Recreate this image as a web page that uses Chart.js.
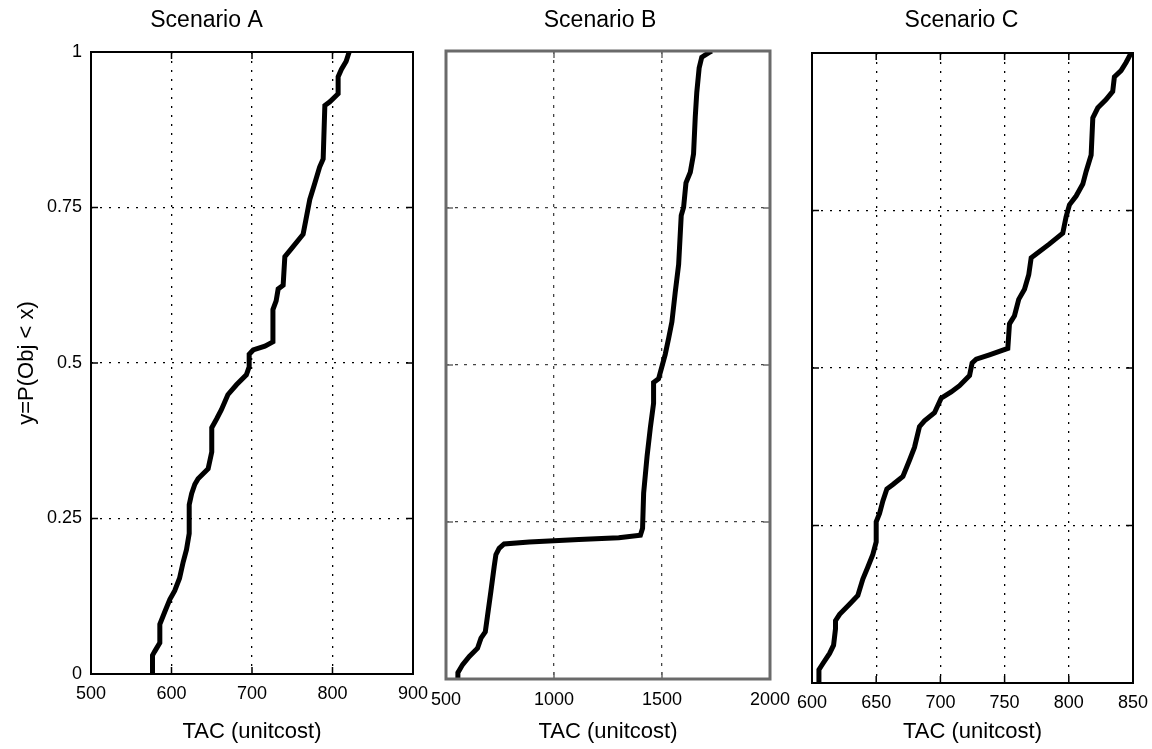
<!DOCTYPE html>
<html><head><meta charset="utf-8">
<script src="https://cdn.jsdelivr.net/npm/chart.js@4.4.0/dist/chart.umd.min.js"></script>
<style>
html,body{margin:0;padding:0;background:#fff;width:1152px;height:749px;overflow:hidden}
canvas{position:absolute;top:0}
</style></head><body>
<canvas id="cA" width="430" height="749" style="left:0px"></canvas>
<canvas id="cB" width="365" height="749" style="left:430px"></canvas>
<canvas id="cC" width="362" height="749" style="left:790px"></canvas>
<script>
// ---- data ----
const panelTitles = ['Scenario A', 'Scenario B', 'Scenario C'];
const xAxisTitle = 'TAC (unitcost)';
const yAxisTitle = 'y=P(Obj < x)';
const yTicks = [0, 0.25, 0.5, 0.75, 1];
const xTicksA = [500, 600, 700, 800, 900];
const xTicksB = [500, 1000, 1500, 2000];
const xTicksC = [600, 650, 700, 750, 800, 850];

const tacA  = [576.4,576.4,579,585.5,585.5,591.7,598,604,610,614.5,618.6,622,622,625,629,633,645.5,650,650,656,662,670,680.7,693,696.5,696.5,701.5,716,726,726,730,732.5,738.7,740.8,749,763.5,766.9,771.8,778,784,788.4,790.5,796.7,807,807,811,817,820.7];
const probA = [0,0.03,0.036,0.05,0.08,0.10,0.12,0.134,0.154,0.18,0.20,0.226,0.272,0.29,0.305,0.314,0.33,0.357,0.396,0.41,0.425,0.449,0.465,0.481,0.494,0.514,0.521,0.527,0.534,0.586,0.6,0.619,0.625,0.671,0.684,0.707,0.73,0.763,0.789,0.815,0.828,0.914,0.92,0.933,0.96,0.972,0.985,1.0];

const tacB  = [552,555,577,608,646,662,682,692,708,723,731,746,769,885,1115,1300,1400,1410,1415,1431,1446,1461,1461,1484,1500,1515,1531,1546,1561,1577,1589,1600,1611,1631,1646,1654,1661,1672,1684,1715,1730];
const probB = [0,0.01,0.023,0.036,0.049,0.065,0.075,0.10,0.14,0.179,0.198,0.208,0.215,0.218,0.222,0.225,0.229,0.24,0.296,0.355,0.40,0.439,0.472,0.478,0.498,0.517,0.543,0.569,0.615,0.66,0.738,0.751,0.79,0.807,0.836,0.895,0.934,0.973,0.99,0.997,1.0];

const tacC  = [605.4,605.4,608.5,613.7,616.8,618.3,618.3,621.5,629.2,635.7,639.6,643.5,647.4,650,650,652.6,655.2,658.3,663,670.8,676,679.8,683.7,687.6,695.4,700.6,708.4,714.9,722.7,724.7,727.9,738.2,752.5,753.8,757.7,761,765.5,768.8,770.7,774.6,785,795.3,797.9,800.5,805.7,810.9,813.5,817.4,818.7,822.6,829,834.2,835.5,840.7,844.6,848.5];
const probC = [0,0.021,0.031,0.047,0.06,0.086,0.099,0.109,0.125,0.139,0.165,0.184,0.204,0.224,0.256,0.269,0.289,0.308,0.315,0.328,0.354,0.374,0.407,0.416,0.429,0.452,0.462,0.472,0.488,0.508,0.514,0.521,0.531,0.57,0.583,0.609,0.625,0.648,0.675,0.681,0.697,0.714,0.74,0.759,0.773,0.792,0.812,0.838,0.897,0.913,0.926,0.939,0.962,0.972,0.985,1.0];

// ---- drawing ----
const FONT = "'Liberation Sans', Arial, Helvetica, sans-serif";

const framePlugin = {
  id: 'frame',
  afterDatasetsDraw(chart, args, o) {
    const {ctx, chartArea: {left, right, top, bottom}, scales: {x, y}} = chart;
    ctx.save();
    ctx.setLineDash([]);
    ctx.strokeStyle = o.color;
    ctx.lineWidth = o.tickWidth;
    const L = o.tick;
    ctx.beginPath();
    x.ticks.forEach(t => {
      const px = x.getPixelForValue(t.value);
      if (px > left + 1 && px < right - 1) {
        ctx.moveTo(px, bottom); ctx.lineTo(px, bottom - L);
        ctx.moveTo(px, top); ctx.lineTo(px, top + L);
      }
    });
    y.ticks.forEach(t => {
      const py = y.getPixelForValue(t.value);
      if (py > top + 1 && py < bottom - 1) {
        ctx.moveTo(left, py); ctx.lineTo(left + L, py);
        ctx.moveTo(right, py); ctx.lineTo(right - L, py);
      }
    });
    ctx.stroke();
    ctx.lineWidth = o.width;
    ctx.strokeRect(left, top, right - left, bottom - top);
    ctx.restore();
  }
};

function makeChart(id, title, xs, ys, xTicks, c) {
  const pts = xs.map((v, i) => ({x: v, y: ys[i]}));
  return new Chart(document.getElementById(id), {
    type: 'line',
    data: { datasets: [{ data: pts, borderColor: '#000', borderWidth: 5, pointRadius: 0, tension: 0, fill: false }] },
    plugins: [framePlugin],
    options: {
      responsive: false, animation: false, devicePixelRatio: 1,
      layout: { padding: { left: 0, right: c.padRight, top: 0, bottom: 0 } },
      plugins: {
        legend: { display: false }, tooltip: { enabled: false },
        title: { display: true, text: title, color: '#000', font: { family: FONT, size: 23, weight: 'normal' }, padding: { top: c.titleTop, bottom: c.titleBottom } },
        frame: { color: c.frameColor, width: c.frameWidth, tick: 7, tickWidth: 1.5 }
      },
      scales: {
        x: {
          type: 'linear', min: xTicks[0], max: xTicks[xTicks.length - 1],
          afterBuildTicks: s => { s.ticks = xTicks.map(v => ({value: v})); },
          afterFit: s => { s.height = c.xAxisH; s.paddingLeft = 0; s.paddingRight = 0; },
          grid: { color: c.gridColor, lineWidth: 1.3, drawTicks: false },
          border: { display: false, dash: c.dash },
          ticks: { color: '#000', padding: c.xTickPad, maxRotation: 0, autoSkip: false, font: { family: FONT, size: 18 }, callback: v => String(v) },
          title: { display: true, text: xAxisTitle, color: '#000', font: { family: FONT, size: 22 }, padding: { top: 0, bottom: c.xTitlePad } }
        },
        y: {
          type: 'linear', min: 0, max: 1,
          afterBuildTicks: s => { s.ticks = yTicks.map(v => ({value: v})); },
          afterFit: s => { s.width = c.yAxisW; s.paddingTop = 0; s.paddingBottom = 0; },
          grid: { color: c.gridColor, lineWidth: 1.3, drawTicks: false },
          border: { display: false, dash: c.dash },
          ticks: { display: c.showY, color: '#000', padding: 9, font: { family: FONT, size: 18 }, callback: v => String(v) },
          title: { display: c.showY, text: yAxisTitle, color: '#000', font: { family: FONT, size: 22 }, padding: { top: 14, bottom: 0 } }
        }
      }
    }
  });
}

makeChart('cA', panelTitles[0], tacA, probA, xTicksA, {
  padRight: 17, titleTop: 7, titleBottom: 17.4, xAxisH: 75, yAxisW: 91, xTickPad: 9, xTitlePad: 4,
  showY: true, frameColor: '#000', frameWidth: 2, gridColor: '#000', dash: [2, 7]
});
makeChart('cB', panelTitles[1], tacB, probB, xTicksB, {
  padRight: 25, titleTop: 7, titleBottom: 16.4, xAxisH: 70, yAxisW: 16, xTickPad: 10, xTitlePad: 4,
  showY: false, frameColor: '#6a6a6a', frameWidth: 3, gridColor: '#444', dash: [3, 6]
});
makeChart('cC', panelTitles[2], tacC, probC, xTicksC, {
  padRight: 19, titleTop: 7, titleBottom: 18.4, xAxisH: 66, yAxisW: 22, xTickPad: 9, xTitlePad: 4,
  showY: false, frameColor: '#000', frameWidth: 2, gridColor: '#000', dash: [2, 7]
});
</script>
</body></html>
